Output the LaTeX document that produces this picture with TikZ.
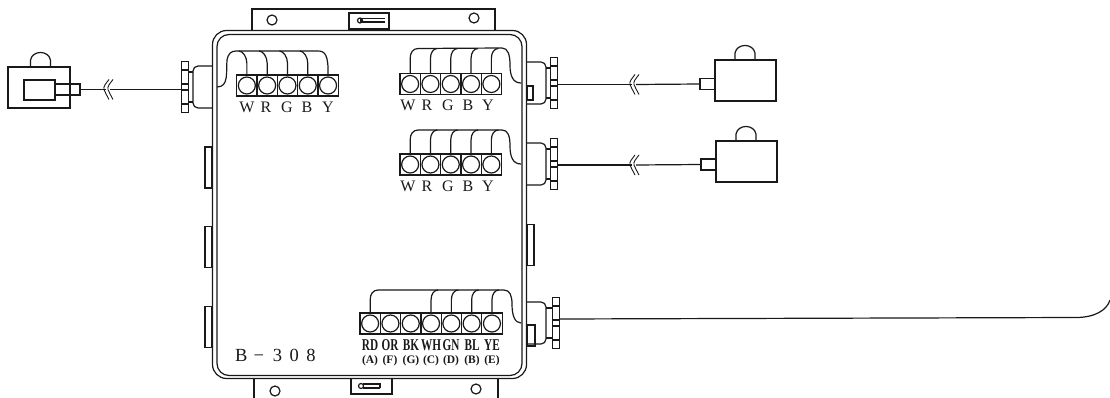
\documentclass[tikz,border=0pt]{standalone}
\usepackage{fontspec}
\setmainfont{Liberation Serif}
\tikzset{
  ln/.style={draw=black!90,line width=1.2pt},
  cellbox/.style={ln,rectangle,minimum width=20.3pt,minimum height=21pt,inner sep=0pt,outer sep=0pt},
  termhole/.style={ln,circle,minimum size=17pt,inner sep=0pt,outer sep=0pt},
  rectbox/.style={ln,rectangle,inner sep=0pt,outer sep=0pt},
  hole/.style={ln,circle,minimum size=10pt,inner sep=0pt,outer sep=0pt},
  lab/.style={font=\fontsize{16}{16}\selectfont,inner sep=0pt,text=black!90},
  labb/.style={font=\fontsize{16.5}{16.5}\selectfont\bfseries,inner sep=0pt,xscale=.68,text=black!90},
  labc/.style={font=\fontsize{11.5}{11.5}\selectfont\bfseries,inner sep=0pt,text=black!90},
}
\newcommand\termblock[4]{\foreach \i in {1,...,#4}{
  \node[cellbox] (#1\i) at ({#2+(\i-.5)*20.3},#3) {};
  \node[termhole] (#1c\i) at (#1\i) {};}}
\newcommand\gland[5]{% name, wall x, direction, y centre, flange offset
  \begin{scope}[shift={(#2,#4)},xscale=#3]
    \draw[ln,rounded corners=5pt] (0,-21) -- (19,-21) -- (19,21) -- (0,21);
    \draw[ln] (19,-15) -- (24+#5,-15) (19,15) -- (24+#5,15);
    \node[rectbox,minimum width=6.5pt,minimum height=51pt] (#1) at (27+#5,0) {};
    \draw[ln] (24+#5,-17) -- (30+#5,-17) (24+#5,-3) -- (30+#5,-3) (24+#5,3) -- (30+#5,3) (24+#5,17) -- (30+#5,17);
  \end{scope}}
\newcommand\brk[3]{% name, x, y
  \coordinate (#1l) at (#2-2,#3);
  \coordinate (#1r) at (#2+2,#3);
  \foreach \d in {-2,2}{
    \draw[ln,line width=.9pt] (#2+\d+3,#3-10) .. controls (#2+\d,#3-6) and (#2+\d-3,#3-3) .. (#2+\d-2,#3) .. controls (#2+\d-1,#3+3) and (#2+\d+1,#3+6) .. (#2+\d+3,#3+10);}}
\newcommand\dome[2]{\draw[ln] (#1-10,#2) -- (#1-10,#2-7) .. controls (#1-8,#2-17) and (#1+8,#2-17) .. (#1+10,#2-7) -- (#1+10,#2);}
\begin{document}
\begin{tikzpicture}[x=1pt,y=-1pt]
\useasboundingbox (0,0) rectangle (1110,398);
% mounting tabs
\draw[ln] (252,30) |- (495,9) -- (495,30);
\draw[ln] (254,378) -- (254,398) (498,378) -- (498,398);
\node[hole] (h1) at (272,20) {};
\node[hole] (h2) at (474,18) {};
\node[hole] (h3) at (275,391) {};
\node[hole] (h4) at (476,389) {};
\node[rectbox,minimum width=40pt,minimum height=16pt] (s1) at (369,21) {};
\node[rectbox,minimum width=41pt,minimum height=16pt] (s2) at (371.5,386) {};
\draw[ln] (385,22) -- (361,22) -- (361,18.5) -- (385,18.5);
\node[ln,circle,minimum size=5pt,inner sep=0pt] (s1c) at (360,20.5) {};
\draw[ln] (380,388) -- (363,388) (363,384) -- (380,384) -- (380,388);
\node[ln,circle,minimum size=5pt,inner sep=0pt] (s2c) at (361,386) {};
% side bumps
\node[rectbox,minimum width=7pt,minimum height=41pt] (b1) at (208.5,167.5) {};
\node[rectbox,minimum width=7pt,minimum height=41pt] (b2) at (208.5,247) {};
\node[rectbox,minimum width=7pt,minimum height=41pt] (b3) at (208.5,327) {};
\node[rectbox,minimum width=7pt,minimum height=41pt] (b4) at (530.5,245) {};
% enclosure
\node[ln,rectangle,fill=white,rounded corners=14pt,minimum width=314pt,minimum height=348pt,inner sep=0,outer sep=0] (box) at (369.5,204.5) {};
\node[ln,rectangle,rounded corners=12pt,minimum width=305pt,minimum height=341pt,inner sep=0,outer sep=0] (inner) at (369.5,205) {};
% glands
\gland{fa}{212}{-1}{87}{0}
\gland{fb}{527}{1}{83}{0}
\gland{fc}{527}{1}{164}{0}
\gland{fd}{527}{1}{323}{2}
\node[rectbox,minimum width=6pt,minimum height=14pt] (ga) at (530,93) {};
\node[rectbox,minimum width=8pt,minimum height=21pt] (gd) at (531,335.5) {};
% terminal blocks
\termblock{a}{236.7}{85.5}{5}
\termblock{b}{400}{84}{5}
\termblock{c}{400}{164.5}{5}
\termblock{d}{360}{323.5}{7}
% wall points
\coordinate (wa) at (217,87);
\coordinate (wb) at (521,83);
\coordinate (wc) at (521,164);
\coordinate (wd) at (521,323);
% wires block A
\draw[ln] (wa) .. controls (229,87) and (226,72) .. (227,60) .. controls (228,54) and (231,51) .. (236,51) -- (318,51) .. controls (325,51) and (328.5,55) .. (a5.north);
\foreach \i in {1,...,4}{\draw[ln] (a\i.north) -- ++(0,-12) .. controls +(0,-6) and +(4,0) .. ++(-8,-12);}
% wires block B
\draw[ln] (b1.north) -- ++(0,-15) .. controls +(0,-6) and +(-5,0) .. ++(8,-10) -- (502,48) .. controls (508,48) and (510,55) .. (510,65) .. controls (510,76) and (513,83) .. (wb);
\foreach \i in {2,3,4,5}{\draw[ln] (b\i.north) -- ++(0,-15) .. controls +(0,-6) and +(-4,0) .. ++(7,-10);}
% wires block C
\draw[ln] (c1.north) -- ++(0,-14) .. controls +(0,-6) and +(-5,0) .. ++(8,-10) -- (502,130) .. controls (508,130) and (510,136) .. (510,146) .. controls (510,157) and (513,164) .. (wc);
\foreach \i in {2,3,4,5}{\draw[ln] (c\i.north) -- ++(0,-14) .. controls +(0,-6) and +(-4,0) .. ++(7,-10);}
% wires block D
\draw[ln] (d1.north) -- ++(0,-13) .. controls +(0,-6) and +(-5,0) .. ++(8,-10) -- (504,290) .. controls (510,290) and (512,296) .. (512,304) .. controls (512,316) and (515,323) .. (wd);
\foreach \i in {4,5,6,7}{\draw[ln] (d\i.north) -- ++(0,-13) .. controls +(0,-6) and +(-4,0) .. ++(7,-10);}
% left sensor
\node[rectbox,minimum width=62pt,minimum height=41pt] (sa) at (39,87.5) {};
\node[rectbox,minimum width=31pt,minimum height=20pt] (sai) at (39.5,90) {};
\node[rectbox,minimum width=25pt,minimum height=11pt] (pa) at (67.5,89.5) {};
\dome{40.5}{67}
% right sensors
\node[rectbox,minimum width=61pt,minimum height=41pt] (sb) at (745.5,80.5) {};
\node[rectbox,minimum width=15pt,minimum height=11pt] (pb) at (707.5,84) {};
\dome{745}{60}
\node[rectbox,minimum width=61pt,minimum height=41pt] (sc) at (746.5,161.5) {};
\node[rectbox,minimum width=15pt,minimum height=11pt] (pc) at (708.5,164.5) {};
\dome{746}{141}
% signal wires
\brk{ka}{108}{89.5}
\brk{kb}{634}{84.5}
\brk{kc}{634}{165}
\draw[ln] (pa.east) -- (kal);
\draw[ln] (kar) -- (fa.west |- kar);
\draw[ln] (fb.east |- kbl) -- (kbl);
\draw[ln] (kbr) -- (pb.west);
\draw[ln] (fc.east |- kcl) -- (kcl);
\draw[ln] (kcr) -- (pc.west);
% cable
\coordinate (cs) at (558,319);
\coordinate (ce) at (1110,300);
\draw[ln] (fd.east |- cs) -- (1076,317.5) .. controls (1095,317.5) and (1107,310) .. (ce);
% labels
\foreach \t/\x in {W/247,R/266,G/287,B/307,Y/328}{\node[lab] (la\t) at (\x,107) {\t};}
\foreach \t/\x in {W/408,R/427,G/448,B/468,Y/488}{\node[lab] (lb\t) at (\x,105) {\t};}
\foreach \t/\x in {W/408,R/427,G/448,B/468,Y/488}{\node[lab] (lc\t) at (\x,186) {\t};}
\foreach \t/\x in {RD/370,OR/390,BK/411,WH/431,GN/451,BL/472,YE/492}{\node[labb] (ld\t) at (\x,345.5) {\t};}
\foreach \t/\x in {A/370,F/390,G/411,C/431,D/451,B/472,E/492}{\node[labc] (le\t) at (\x,361) {(\t)};}
\node[font=\fontsize{18.5}{18.5}\selectfont,inner sep=0pt,anchor=west,text=black!90] (model) at (235,355) {B\hspace{6pt}−\hspace{9pt}3\hspace{7.5pt}0\hspace{7.5pt}8};
\end{tikzpicture}
\end{document}
